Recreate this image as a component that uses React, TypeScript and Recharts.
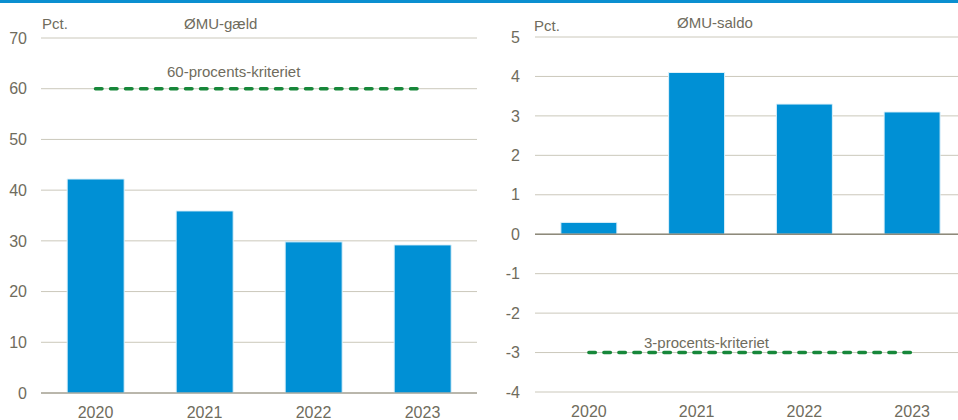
import { Bar, CartesianGrid, ComposedChart, Line, ReferenceLine, XAxis, YAxis } from "recharts";

// Data
const years = ["2020", "2021", "2022", "2023"];
const gaeld = [42.2, 35.9, 29.8, 29.2];
const gaeldKriterie = [60, 60, 60, 60];
const saldo = [0.3, 4.1, 3.3, 3.1];
const saldoKriterie = [-3, -3, -3, -3];
const gaeldTicks = [0, 10, 20, 30, 40, 50, 60, 70];
const saldoTicks = [-4, -3, -2, -1, 0, 1, 2, 3, 4, 5];

const FONT = "'Liberation Sans Narrow', 'Arial Narrow', 'Liberation Sans', Arial, sans-serif";
const TEXT = "#6f6c5d";
const BLUE = "#0090d5";
const GREEN = "#17873a";
const GRID = "#cbc8bb";

const gaeldData = years.map((y, i) => ({ year: y, value: gaeld[i], limit: gaeldKriterie[i] }));
const saldoData = years.map((y, i) => ({ year: y, value: saldo[i], limit: saldoKriterie[i] }));

const tick = { fontSize: 16, fill: TEXT, fontFamily: FONT };

function Txt({ x, y, children }: { x: number; y: number; children: string }) {
  return (
    <div
      style={{
        position: "absolute",
        left: x,
        top: y,
        fontFamily: FONT,
        fontSize: 15,
        color: TEXT,
        lineHeight: "18px",
        whiteSpace: "nowrap",
      }}
    >
      {children}
    </div>
  );
}

export default function App() {
  return (
    <div
      style={{
        position: "absolute",
        left: 0,
        top: 0,
        width: 958,
        height: 420,
        background: "#fff",
        overflow: "hidden",
      }}
    >
      <div style={{ position: "absolute", left: 0, top: 0, width: 958, height: 3, background: "#0a8fd0" }} />

      <div style={{ position: "absolute", left: 0, top: 0 }}>
        <ComposedChart
          width={480}
          height={420}
          data={gaeldData}
          margin={{ top: 38, right: 3, left: 0, bottom: 0 }}
          barCategoryGap="24%"
        >
          <CartesianGrid vertical={false} stroke={GRID} />
          <XAxis
            dataKey="year"
            height={27}
            tickLine={false}
            axisLine={{ stroke: "#8e8a7b" }}
            tickSize={0}
            tickMargin={14}
            tick={tick}
          />
          <YAxis
            width={41}
            domain={[0, 70]}
            ticks={gaeldTicks}
            tickLine={false}
            axisLine={false}
            tickSize={0}
            tickMargin={14}
            tick={tick}
          />
          <Bar dataKey="value" fill={BLUE} stroke="#dff1fa" strokeWidth={1} isAnimationActive={false} />
          <Line
            dataKey="limit"
            stroke={GREEN}
            strokeWidth={3.5}
            strokeDasharray="6.5 8.5"
            strokeLinecap="round"
            dot={false}
            activeDot={false}
            isAnimationActive={false}
          />
        </ComposedChart>
      </div>

      {/* the right plot runs a little past the picture's edge, as in the source */}
      <div style={{ position: "absolute", left: 480, top: 0 }}>
        <ComposedChart
          width={487}
          height={420}
          data={saldoData}
          margin={{ top: 37, right: 1, left: 0, bottom: 0 }}
          barCategoryGap="24%"
        >
          <CartesianGrid vertical={false} stroke={GRID} />
          <XAxis
            dataKey="year"
            height={28}
            tickLine={false}
            axisLine={false}
            tickSize={0}
            tickMargin={14}
            tick={tick}
          />
          <YAxis
            width={55}
            domain={[-4, 5]}
            ticks={saldoTicks}
            tickLine={false}
            axisLine={false}
            tickSize={0}
            tickMargin={15}
            tick={tick}
          />
          <ReferenceLine y={0} stroke="#8e8a7b" strokeWidth={1.5} />
          <Bar dataKey="value" fill={BLUE} stroke="#dff1fa" strokeWidth={1} isAnimationActive={false} />
          <Line
            dataKey="limit"
            stroke={GREEN}
            strokeWidth={3.5}
            strokeDasharray="6.5 8.5"
            strokeLinecap="round"
            dot={false}
            activeDot={false}
            isAnimationActive={false}
          />
        </ComposedChart>
      </div>

      <Txt x={42} y={15}>Pct.</Txt>
      <Txt x={184} y={15}>ØMU-gæld</Txt>
      <Txt x={167} y={63}>60-procents-kriteriet</Txt>
      <Txt x={534} y={17}>Pct.</Txt>
      <Txt x={677} y={14}>ØMU-saldo</Txt>
      <Txt x={644} y={334}>3-procents-kriteriet</Txt>
    </div>
  );
}
